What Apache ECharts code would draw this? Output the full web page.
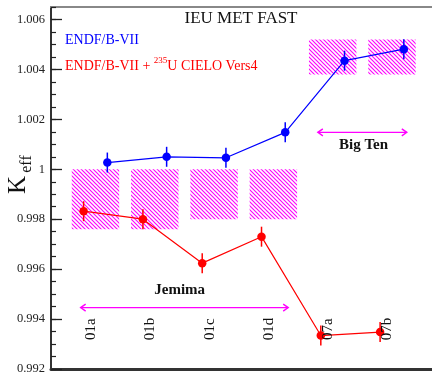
<!DOCTYPE html>
<html><head><meta charset="utf-8">
<script src="https://cdn.jsdelivr.net/npm/echarts@6/dist/echarts.min.js"></script>
<style>html,body{margin:0;padding:0;background:#fff}#c{width:432px;height:374px}</style>
</head><body><div id="c"></div>
<script>
// ---- data ----
const categories = ['01a', '01b', '01c', '01d', '07a', '07b'];
const endfValues = [1.00027, 1.00050, 1.00046, 1.00148, 1.00435, 1.00481];
const endfErrors = [0.0004, 0.0004, 0.0004, 0.0004, 0.0004, 0.0004];
const cieloValues = [0.99832, 0.99800, 0.99624, 0.99730, 0.99334, 0.99348];
const cieloErrors = [0.0004, 0.0004, 0.0004, 0.0004, 0.0004, 0.0004];
const benchLow = [0.9976, 0.9976, 0.9980, 0.9980, 1.0038, 1.0038];
const benchHigh = [1.0000, 1.0000, 1.0000, 1.0000, 1.0052, 1.0052];
const yTickLabels = ['0.992', '0.994', '0.996', '0.998', '1', '1.002', '1.004', '1.006'];
const groupNames = ['Jemima', 'Big Ten'];

const FONT = '"Liberation Serif", "Times New Roman", serif';
const MAG = '#ff00ff';
const DODGE = 0.2;

function hatchCanvas() {
  const c = document.createElement('canvas');
  c.width = 4; c.height = 4;
  const g = c.getContext('2d');
  g.strokeStyle = MAG; g.lineWidth = 1.15;
  g.beginPath();
  for (const o of [-4, 0, 4]) { g.moveTo(o - 1, -1); g.lineTo(o + 5, 5); }
  g.stroke();
  return c;
}
const hatch = hatchCanvas();

const chart = echarts.init(document.getElementById('c'), null, {renderer: 'canvas'});

function errSeries(vals, errs, color, shift) {
  return {
    type: 'custom', z: 3, silent: true,
    data: vals.map((v, i) => [i + 1 + shift, v, errs[i]]),
    renderItem: (p, api) => {
      const x = api.value(0), v = api.value(1), e = api.value(2);
      const a = api.coord([x, v + e]), b = api.coord([x, v - e]);
      return {type: 'line', shape: {x1: a[0], y1: a[1], x2: b[0], y2: b[1]},
        style: {stroke: color, lineWidth: 1.5}};
    }
  };
}

function lineSeries(name, vals, color, shift) {
  return {
    name, type: 'line', z: 4, silent: true,
    data: vals.map((v, i) => [i + 1 + shift, v]),
    symbol: 'circle', symbolSize: 8.5,
    itemStyle: {color},
    lineStyle: {color, width: 1.2},
    animation: false
  };
}

// arrows: [from, to, y, textX, textY, nameIndex]
const arrowData = [
  [0.75, 4.25, 0.99446, 2.42, 0.99517, 0],
  [4.75, 6.25, 1.00148, 5.52, 1.00097, 1]
];

const option = {
  animation: false,
  grid: {left: 51, right: 0, top: 7, bottom: 5, containLabel: false, outerBoundsMode: 'none'},
  xAxis: [
    {type: 'value', min: 0.25, max: 6.675, position: 'bottom',
      axisLine: {show: true, onZero: false, lineStyle: {color: '#333', width: 3}},
      axisTick: {show: false}, axisLabel: {show: false}, splitLine: {show: false}},
    {type: 'value', min: 0.25, max: 6.675, position: 'top',
      axisLine: {show: true, onZero: false, lineStyle: {color: '#888', width: 2}},
      axisTick: {show: false}, axisLabel: {show: false}, splitLine: {show: false}}
  ],
  yAxis: [
    {type: 'value', min: 0.992, max: 1.0065, interval: 0.002, position: 'left',
      axisLine: {show: true, onZero: false, lineStyle: {color: '#333', width: 2}},
      axisTick: {show: true, inside: true, length: 11, lineStyle: {color: '#222', width: 1.3}},
      axisLabel: {show: true, showMaxLabel: false, margin: 6, color: '#222',
        fontFamily: FONT, fontSize: 12.5,
        formatter: v => { const i = Math.round((v - 0.992) / 0.002); return yTickLabels[i] !== undefined ? yTickLabels[i] : ''; }},
      splitLine: {show: false}},
    {type: 'value', min: 0.992, max: 1.0065, interval: 0.0005, position: 'left', offset: 0,
      axisLine: {show: false},
      axisTick: {show: true, inside: true, length: 5, lineStyle: {color: '#222', width: 1.2}},
      axisLabel: {show: false}, splitLine: {show: false}}
  ],
  series: [
    {
      type: 'custom', z: 1, silent: true,
      data: categories.map((c, i) => [i + 1, benchLow[i], benchHigh[i]]),
      renderItem: (p, api) => {
        const k = api.value(0);
        const a = api.coord([k - 0.4, api.value(2)]);
        const b = api.coord([k + 0.4, api.value(1)]);
        return {type: 'rect', shape: {x: a[0], y: a[1], width: b[0] - a[0], height: b[1] - a[1]},
          style: {fill: {image: hatch, repeat: 'repeat'}}};
      }
    },
    errSeries(endfValues, endfErrors, '#0000ff', DODGE),
    errSeries(cieloValues, cieloErrors, '#ff0000', -DODGE),
    lineSeries('ENDF/B-VII', endfValues, '#0000ff', DODGE),
    lineSeries('ENDF/B-VII + 235U CIELO Vers4', cieloValues, '#ff0000', -DODGE),
    {
      type: 'custom', z: 5, silent: true,
      data: categories.map((c, i) => [i + 1, 0.9936]),
      renderItem: (p, api) => {
        const pt = api.coord([api.value(0), api.value(1)]);
        return {type: 'text', x: pt[0] - 4.5, y: pt[1], rotation: Math.PI / 2,
          style: {text: categories[p.dataIndex], font: '15px ' + FONT, fill: '#111',
            textAlign: 'center', textVerticalAlign: 'middle'}};
      }
    },
    {
      type: 'custom', z: 5, silent: true,
      data: arrowData,
      renderItem: (p, api) => {
        const a = api.coord([api.value(0), api.value(2)]);
        const b = api.coord([api.value(1), api.value(2)]);
        const t = api.coord([api.value(3), api.value(4)]);
        const st = {stroke: MAG, lineWidth: 1.4, fill: null};
        return {type: 'group', children: [
          {type: 'line', shape: {x1: a[0], y1: a[1], x2: b[0], y2: b[1]}, style: st},
          {type: 'polyline', shape: {points: [[a[0] + 5, a[1] - 3.5], [a[0], a[1]], [a[0] + 5, a[1] + 3.5]]}, style: st},
          {type: 'polyline', shape: {points: [[b[0] - 5, b[1] - 3.5], [b[0], b[1]], [b[0] - 5, b[1] + 3.5]]}, style: st},
          {type: 'text', x: t[0], y: t[1], style: {text: groupNames[api.value(5)], font: 'bold 15px ' + FONT,
            fill: '#111', textAlign: 'center', textVerticalAlign: 'middle'}}
        ]};
      }
    }
  ],
  graphic: [
    {type: 'text', x: 241, y: 18.5, style: {text: 'IEU MET FAST', font: '17px ' + FONT, fill: '#111',
      textAlign: 'center', textVerticalAlign: 'middle'}},
    {type: 'text', x: 65, y: 40.5, style: {text: 'ENDF/B-VII', font: '14px ' + FONT, fill: '#0000ff',
      textAlign: 'left', textVerticalAlign: 'middle'}},
    {type: 'text', x: 65, y: 66, style: {
      text: '{m|ENDF/B-VII + }{s|235}{m|U CIELO Vers4}',
      rich: {m: {font: '14px ' + FONT, fill: '#ff0000'}, s: {font: '9px ' + FONT, fill: '#ff0000', padding: [0, 0, 11, 0]}},
      textAlign: 'left', textVerticalAlign: 'middle'}},
    {type: 'text', x: 18, y: 185, rotation: Math.PI / 2, style: {text: 'K', font: '25px ' + FONT, fill: '#111',
      textAlign: 'center', textVerticalAlign: 'middle'}},
    {type: 'text', x: 27, y: 164, rotation: Math.PI / 2, style: {text: 'eff', font: '16px ' + FONT, fill: '#111',
      textAlign: 'center', textVerticalAlign: 'middle'}}
  ]
};
chart.setOption(option);
</script></body></html>
